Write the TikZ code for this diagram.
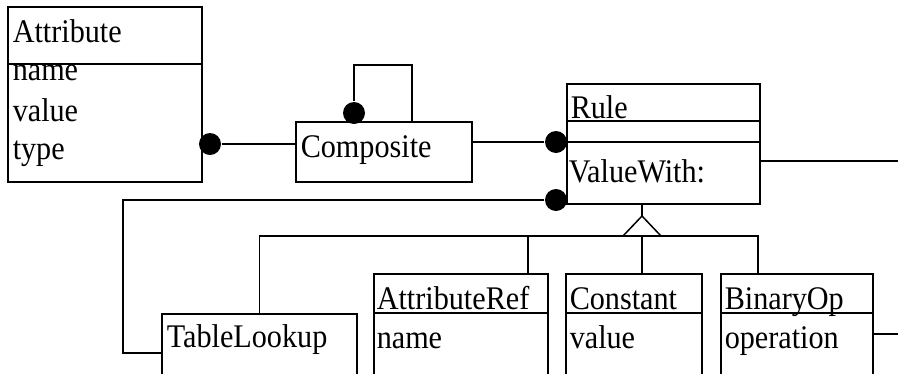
\documentclass[tikz,border=0pt]{standalone}
\usepackage{fontspec}
\setmainfont[FakeStretch=0.915]{Liberation Serif}
\begin{document}
\begin{tikzpicture}[
        x=1pt, y=-1pt, line width=1.5pt,
        box/.style={draw,anchor=north west,inner sep=0pt},
        txt/.style={anchor=base west,inner sep=0pt,font=\fontsize{33}{38}\selectfont},
        dot/.style={circle,fill,inner sep=0pt,minimum size=22pt}
        ]
        \clip (0,0) rectangle (898,373);
        % classes
        \node (attr) [box,minimum width=194pt,minimum height=175pt] at (7,6) {};
        \node (comp) [box,minimum width=176pt,minimum height=60pt] at (295,121) {};
        \node (rule) [box,minimum width=193pt,minimum height=120pt] at (566,83) {};
        \node (tbl) [box,minimum width=195pt,minimum height=70pt] at (161,313) {};
        \node (aref) [box,minimum width=174pt,minimum height=110pt] at (373,273) {};
        \node (const) [box,minimum width=136pt,minimum height=110pt] at (565,273) {};
        \node (binop) [box,minimum width=152pt,minimum height=110pt] at (720,273) {};
        % compartments
        \draw (attr.west |- 0,64) -- (attr.east |- 0,64);
        \draw (rule.west |- 0,121) -- (rule.east |- 0,121);
        \draw (rule.west |- 0,142) -- (rule.east |- 0,142);
        \draw (aref.west |- 0,313) -- (aref.east |- 0,313);
        \draw (const.west |- 0,313) -- (const.east |- 0,313);
        \draw (binop.west |- 0,313) -- (binop.east |- 0,313);
        % texts
        \node (tattr) [txt] at (12,42) {Attribute};
        \node (tname) [txt] at (12,80) {name};
        \node (tvalue) [txt] at (12,121) {value};
        \node (ttype) [txt] at (12,159) {type};
        \node (tcomp) [txt] at (300,157) {Composite};
        \node (trule) [txt] at (570,118) {Rule};
        \node (tvw) [txt] at (568,182) {ValueWith:};
        \node (ttbl) [txt] at (166,347) {TableLookup};
        \node (taref) [txt] at (376,309) {AttributeRef};
        \node (tarn) [txt] at (376,348) {name};
        \node (tconst) [txt] at (569,309) {Constant};
        \node (tconv) [txt] at (569,348) {value};
        \node (tbin) [txt] at (724,309) {BinaryOp};
        \node (tbinop) [txt] at (724,348) {operation};
        % associations
        \node (d1) [dot] at (210,144) {};
        \node (d2) [dot] at (354,113) {};
        \node (d3) [dot] at (556,142) {};
        \node (d4) [dot] at (556,200) {};
        \coordinate (loop) at (412,65);
        \coordinate (tl) at (123,353);
        \coordinate (re) at (898,161);
        \coordinate (be) at (898,334);
        \draw (d1) -- (d1 -| comp.west);
        \draw (d2) |- (loop) -- (loop |- comp.north);
        \draw (d3) -- (d3 -| comp.east);
        \draw (d4) -| (tl) -- (tl -| tbl.west);
        \draw (re) -- (re -| rule.east);
        \draw (be) -- (be -| binop.east);
        % inheritance
        \coordinate (apex) at (642,216);
        \coordinate (bus) at (758,236);
        \coordinate (ar) at (528,273);
        \draw (apex |- rule.south) -- (apex);
        \draw (apex) -- ++(-19,20) -- ++(38,0) -- cycle;
        \draw (tbl.north) |- (bus) -- (bus |- binop.north);
        \draw (ar) -- (ar |- bus);
        \draw (apex |- bus) -- (apex |- const.north);
\end{tikzpicture}
\end{document}
